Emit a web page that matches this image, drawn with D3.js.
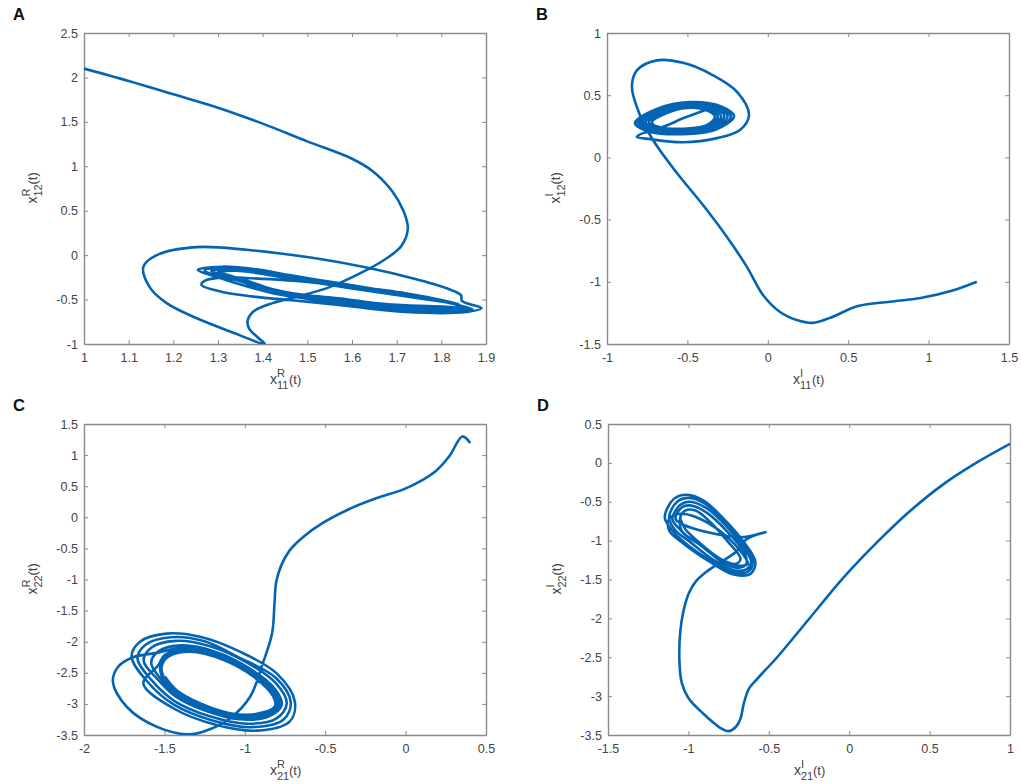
<!DOCTYPE html>
<html>
<head>
<meta charset="utf-8">
<script src="https://cdn.jsdelivr.net/npm/d3@7"></script>
<style>
  html, body { margin: 0; padding: 0; background: #fff; }
  svg { display: block; }
  text { font-family: "Liberation Sans", Arial, sans-serif; }
  .tick text { font-size: 12.6px; fill: #444; }
  .axis path, .axis line { stroke: #8a8a8a; }
  .axis path { stroke-width: 1.4; }
  .axis line { stroke-width: 1; }
</style>
</head>
<body>
<svg id="chart" width="1021" height="784"></svg>
<script>
// tick labels
const xTicksA = [1, 1.1, 1.2, 1.3, 1.4, 1.5, 1.6, 1.7, 1.8, 1.9];
const yTicksA = [-1, -0.5, 0, 0.5, 1, 1.5, 2, 2.5];
const xTicksB = [-1, -0.5, 0, 0.5, 1, 1.5];
const yTicksB = [-1.5, -1, -0.5, 0, 0.5, 1];
const xTicksC = [-2, -1.5, -1, -0.5, 0, 0.5];
const yTicksC = [-3.5, -3, -2.5, -2, -1.5, -1, -0.5, 0, 0.5, 1, 1.5];
const xTicksD = [-1.5, -1, -0.5, 0, 0.5, 1];
const yTicksD = [-3.5, -3, -2.5, -2, -1.5, -1, -0.5, 0, 0.5];

// panel A, x11R against x12R
const pathA = [
  [1, 2.1], [1.1, 1.96], [1.2, 1.81], [1.3, 1.66], [1.4, 1.48], [1.5, 1.28], [1.6, 1.085], [1.645, 0.95],
  [1.69, 0.72], [1.715, 0.5], [1.725, 0.3], [1.71, 0.1], [1.67, -0.06], [1.62, -0.2], [1.55, -0.36],
  [1.476, -0.47], [1.422, -0.54], [1.378, -0.64], [1.366, -0.75], [1.37, -0.83], [1.39, -0.93], [1.405, -1],
  [1.326, -0.857], [1.25, -0.705], [1.185, -0.54], [1.147, -0.36], [1.133, -0.13], [1.163, 0], [1.252, 0.09],
  [1.364, 0.06], [1.511, -0.03], [1.638, -0.145], [1.735, -0.26], [1.81, -0.37], [1.844, -0.45], [1.846, -0.515],
  [1.89, -0.595], [1.855, -0.64], [1.72, -0.64], [1.57, -0.56], [1.46, -0.505], [1.386, -0.47], [1.31, -0.415],
  [1.263, -0.335], [1.27, -0.29], [1.31, -0.25], [1.363, -0.257], [1.497, -0.3], [1.6, -0.375], [1.73, -0.47], [1.84, -0.55],
  [1.81, -0.515], [1.72, -0.43], [1.645, -0.375], [1.57, -0.315], [1.46, -0.225], [1.386, -0.16], [1.31, -0.13], [1.255, -0.165],
  [1.3, -0.25], [1.33, -0.3], [1.42, -0.425], [1.497, -0.49], [1.57, -0.545], [1.645, -0.605], [1.72, -0.635], [1.81, -0.64], [1.86, -0.63],
  [1.81, -0.52], [1.72, -0.44], [1.645, -0.385], [1.57, -0.325], [1.46, -0.24], [1.386, -0.17], [1.32, -0.145], [1.27, -0.17],
  [1.29, -0.22], [1.34, -0.28], [1.42, -0.41], [1.497, -0.475], [1.57, -0.525], [1.645, -0.585], [1.72, -0.615], [1.81, -0.625], [1.865, -0.615],
  [1.81, -0.525], [1.72, -0.45], [1.645, -0.395], [1.57, -0.335], [1.46, -0.255], [1.386, -0.185], [1.33, -0.155], [1.285, -0.18],
  [1.31, -0.22], [1.35, -0.28], [1.42, -0.395], [1.497, -0.46], [1.57, -0.505], [1.645, -0.56], [1.72, -0.59], [1.81, -0.605], [1.87, -0.61],
  [1.81, -0.53], [1.72, -0.455], [1.645, -0.4], [1.57, -0.345], [1.46, -0.265], [1.386, -0.2], [1.34, -0.175], [1.3, -0.19],
  [1.32, -0.22], [1.36, -0.28], [1.42, -0.38], [1.497, -0.45], [1.57, -0.485], [1.645, -0.535], [1.72, -0.565], [1.81, -0.58], [1.86, -0.6]
];

// panel B, x11I against x12I
const pathB = [
  [1.3, -1], [1.15, -1.07], [0.95, -1.13], [0.76, -1.16], [0.561, -1.195], [0.387, -1.29], [0.281, -1.33], [0.18, -1.307],
  [0.076, -1.243], [-0.03, -1.106], [-0.13, -0.88], [-0.254, -0.64], [-0.403, -0.383], [-0.565, -0.126], [-0.714, 0.14],
  [-0.795, 0.34], [-0.845, 0.567], [-0.814, 0.7], [-0.69, 0.78], [-0.527, 0.76], [-0.34, 0.66], [-0.19, 0.525],
  [-0.117, 0.34], [-0.173, 0.22], [-0.316, 0.155], [-0.527, 0.122], [-0.733, 0.147], [-0.814, 0.165], [-0.776, 0.195],
  [-0.69, 0.21], [-0.527, 0.187], [-0.32, 0.225],
  [-0.21, 0.33], [-0.29, 0.41], [-0.484, 0.445], [-0.69, 0.39], [-0.826, 0.275], [-0.73, 0.205], [-0.527, 0.187], [-0.32, 0.225],
  [-0.23, 0.33], [-0.31, 0.41], [-0.49, 0.44], [-0.68, 0.385], [-0.81, 0.28], [-0.72, 0.215], [-0.527, 0.195], [-0.34, 0.23],
  [-0.25, 0.33], [-0.32, 0.405], [-0.495, 0.43], [-0.67, 0.38], [-0.795, 0.285], [-0.71, 0.222], [-0.527, 0.205], [-0.35, 0.24],
  [-0.27, 0.33], [-0.34, 0.4], [-0.495, 0.425], [-0.66, 0.37], [-0.78, 0.285], [-0.7, 0.23], [-0.527, 0.212], [-0.36, 0.245],
  [-0.29, 0.328], [-0.35, 0.39], [-0.5, 0.415], [-0.65, 0.365], [-0.76, 0.285], [-0.69, 0.235], [-0.527, 0.22], [-0.37, 0.25],
  [-0.31, 0.326], [-0.365, 0.385], [-0.5, 0.408], [-0.645, 0.358], [-0.74, 0.285], [-0.675, 0.245], [-0.527, 0.23], [-0.38, 0.26],
  [-0.328, 0.325], [-0.38, 0.378], [-0.503, 0.398], [-0.64, 0.35], [-0.72, 0.285], [-0.683, 0.24], [-0.52, 0.318], [-0.36, 0.395]
];

// panel C, x21R against x22R
const pathC = [
  [0.402, 1.194], [0.353, 1.3], [0.274, 0.99], [0.19, 0.75], [0.087, 0.573], [-0.017, 0.445], [-0.183, 0.305],
  [-0.349, 0.134], [-0.515, -0.09], [-0.639, -0.32], [-0.722, -0.536], [-0.774, -0.777], [-0.805, -1.044],
  [-0.815, -1.366], [-0.83, -1.86], [-0.887, -2.34], [-0.968, -2.89], [-1.09, -3.23], [-1.2, -3.39], [-1.34, -3.49],
  [-1.546, -3.37], [-1.733, -3.05], [-1.82, -2.65], [-1.79, -2.41], [-1.695, -2.25], [-1.546, -2.18],
  [-1.373, -2.096], [-1.166, -2.208], [-0.965, -2.472], [-0.818, -2.799], [-0.786, -3.022], [-0.881, -3.186], [-1.055, -3.212], [-1.256, -3.067], [-1.428, -2.844], [-1.527, -2.584],
  [-1.582, -2.344], [-1.538, -2.156], [-1.392, -2.059], [-1.185, -2.16], [-0.976, -2.42], [-0.816, -2.75], [-0.77, -3.012], [-0.854, -3.202], [-1.034, -3.248], [-1.243, -3.112], [-1.431, -2.88], [-1.544, -2.6],
  [-1.629, -2.304], [-1.582, -2.096], [-1.429, -1.986], [-1.221, -2.068], [-0.997, -2.32], [-0.81, -2.658], [-0.739, -2.992], [-0.802, -3.232], [-0.992, -3.318], [-1.217, -3.2], [-1.437, -2.954], [-1.577, -2.626],
  [-1.667, -2.272], [-1.617, -2.048], [-1.458, -1.928], [-1.25, -1.994], [-1.047, -2.24], [-0.806, -2.584], [-0.714, -2.976], [-0.761, -3.256], [-0.959, -3.374], [-1.196, -3.27], [-1.441, -3.012], [-1.604, -2.648],
  [-1.704, -2.24], [-1.652, -2], [-1.487, -1.87], [-1.279, -1.92], [-1.03, -2.16], [-0.802, -2.51], [-0.689, -2.96], [-0.72, -3.28], [-0.926, -3.43], [-1.175, -3.34], [-1.445, -3.07], [-1.631, -2.67],
  [-1.539, -2.381], [-1.497, -2.211], [-1.358, -2.125], [-1.151, -2.246], [-0.957, -2.512], [-0.82, -2.836], [-0.798, -3.03], [-0.901, -3.174], [-1.072, -3.184], [-1.267, -3.032], [-1.426, -2.815], [-1.513, -2.573],
  [-1.525, -2.39], [-1.485, -2.225], [-1.35, -2.14], [-1.14, -2.27], [-0.95, -2.54], [-0.822, -2.86], [-0.805, -3.035], [-0.915, -3.165], [-1.08, -3.165], [-1.272, -3.01], [-1.425, -2.795], [-1.505, -2.565],
  [-1.517, -2.4], [-1.476, -2.24], [-1.341, -2.16], [-1.134, -2.29], [-0.947, -2.56], [-0.823, -2.88], [-0.813, -3.04], [-0.926, -3.16], [-1.092, -3.15], [-1.279, -2.99], [-1.424, -2.78], [-1.497, -2.56]
];

// panel D, x21I against x22I
const pathD = [
  [1, 0.245], [0.797, 0.009], [0.589, -0.27], [0.382, -0.613], [0.174, -1.02], [-0.033, -1.47], [-0.241, -1.985],
  [-0.448, -2.5], [-0.573, -2.78], [-0.624, -2.906], [-0.656, -3.1], [-0.676, -3.29], [-0.707, -3.4], [-0.749, -3.45],
  [-0.8, -3.41], [-0.905, -3.23], [-0.998, -3.03], [-1.04, -2.84], [-1.056, -2.54], [-1.05, -2.16], [-1.03, -1.9],
  [-0.998, -1.68], [-0.956, -1.53], [-0.894, -1.41], [-0.8, -1.277], [-0.707, -1.15], [-0.635, -0.977], [-0.52, -0.89],
  [-0.64, -0.95], [-0.78, -0.934], [-1.02, -0.806],
  [-1.08, -0.72], [-1.04, -0.57], [-0.98, -0.55], [-0.88, -0.65], [-0.76, -0.88], [-0.65, -1.16], [-0.64, -1.3], [-0.69, -1.35], [-0.78, -1.29], [-0.91, -1.08], [-1.01, -0.94], [-1.06, -0.84],
  [-1.1, -0.72], [-1.05, -0.54], [-0.99, -0.5], [-0.89, -0.58], [-0.77, -0.8], [-0.66, -1.08], [-0.61, -1.27], [-0.64, -1.37], [-0.72, -1.38], [-0.85, -1.24], [-1, -1], [-1.08, -0.87],
  [-1.12, -0.7], [-1.07, -0.5], [-1, -0.45], [-0.9, -0.52], [-0.77, -0.76], [-0.65, -1.06], [-0.6, -1.28], [-0.63, -1.4], [-0.72, -1.41], [-0.86, -1.26], [-1.02, -1.03], [-1.1, -0.87],
  [-1.147, -0.7], [-1.09, -0.463], [-1.008, -0.41], [-0.905, -0.485], [-0.78, -0.72], [-0.655, -1.02], [-0.583, -1.277], [-0.614, -1.427], [-0.718, -1.436], [-0.863, -1.277], [-1.03, -1.04], [-1.12, -0.87],
  [-1.12, -0.72], [-1.05, -0.655], [-0.95, -0.7], [-0.78, -0.915], [-0.66, -1.18], [-0.63, -1.3], [-0.7, -1.32], [-0.8, -1.25], [-0.95, -1.02], [-1.04, -0.88],
  [-1.05, -0.7], [-1.02, -0.613], [-0.956, -0.613], [-0.863, -0.763], [-0.76, -1], [-0.676, -1.234], [-0.707, -1.3], [-0.8, -1.234], [-0.946, -1], [-1.02, -0.85], [-1.05, -0.72]
];

const lineColor = "#0464b4";
const plotW = 402, plotH = 311;
const svg = d3.select("#chart");

// x with stacked superscript and subscript, then (t)
function axisLabel(g, sup, sub) {
  g.append("text").attr("x", -15).attr("font-size", 14).attr("fill", "#444").text("x");
  g.append("text").attr("x", -8).attr("y", -7).attr("font-size", 11).attr("fill", "#444").text(sup);
  g.append("text").attr("x", -8).attr("y", 5).attr("font-size", 11).attr("fill", "#444").text(sub);
  g.append("text").attr("x", 4).attr("font-size", 13).attr("fill", "#444").text("(t)");
}

function drawPanel(p, i) {
  const g = svg.append("g").attr("transform", `translate(${p.left},${p.top})`);
  const x = d3.scaleLinear().domain(d3.extent(p.xTicks)).range([0, plotW]);
  const y = d3.scaleLinear().domain(d3.extent(p.yTicks)).range([plotH, 0]);

  g.append("defs").append("clipPath").attr("id", "clip" + i)
    .append("rect").attr("width", plotW).attr("height", plotH);

  // box on, matlab style: inward ticks on all four sides
  g.append("g").attr("class", "axis").call(d3.axisTop(x).tickValues(p.xTicks).tickSizeInner(-4).tickSizeOuter(0).tickFormat(""));
  g.append("g").attr("class", "axis").attr("transform", `translate(${plotW},0)`)
    .call(d3.axisRight(y).tickValues(p.yTicks).tickSizeInner(-4).tickSizeOuter(0).tickFormat(""));
  g.append("g").attr("class", "axis").attr("transform", `translate(0,${plotH})`)
    .call(d3.axisBottom(x).tickValues(p.xTicks).tickSizeInner(-4).tickSizeOuter(0).tickPadding(9).tickFormat(d => String(d)));
  g.append("g").attr("class", "axis")
    .call(d3.axisLeft(y).tickValues(p.yTicks).tickSizeInner(-4).tickSizeOuter(0).tickPadding(6).tickFormat(d => String(d)));

  const line = d3.line().x(d => x(d[0])).y(d => y(d[1])).curve(d3.curveCatmullRom.alpha(0.5));
  g.append("path")
    .datum(p.path)
    .attr("d", line)
    .attr("clip-path", `url(#clip${i})`)
    .attr("fill", "none")
    .attr("stroke", lineColor)
    .attr("stroke-width", 2.6)
    .attr("stroke-linejoin", "round");

  axisLabel(g.append("g").attr("transform", `translate(${plotW / 2},${plotH + 40})`), p.sup, p.xSub);
  axisLabel(g.append("g").attr("transform", `translate(-47,${plotH / 2}) rotate(-90)`), p.sup, p.ySub);

  svg.append("text")
    .attr("x", p.left - 71).attr("y", p.top - 13)
    .attr("font-size", 16.5).attr("font-weight", "bold").attr("fill", "#111")
    .text(p.letter);
}

[
  { letter: "A", left: 84, top: 33, xTicks: xTicksA, yTicks: yTicksA, path: pathA, sup: "R", xSub: "11", ySub: "12" },
  { letter: "B", left: 607, top: 33, xTicks: xTicksB, yTicks: yTicksB, path: pathB, sup: "I", xSub: "11", ySub: "12" },
  { letter: "C", left: 84, top: 424, xTicks: xTicksC, yTicks: yTicksC, path: pathC, sup: "R", xSub: "21", ySub: "22" },
  { letter: "D", left: 608, top: 424, xTicks: xTicksD, yTicks: yTicksD, path: pathD, sup: "I", xSub: "21", ySub: "22" }
].forEach(drawPanel);
</script>
</body>
</html>
